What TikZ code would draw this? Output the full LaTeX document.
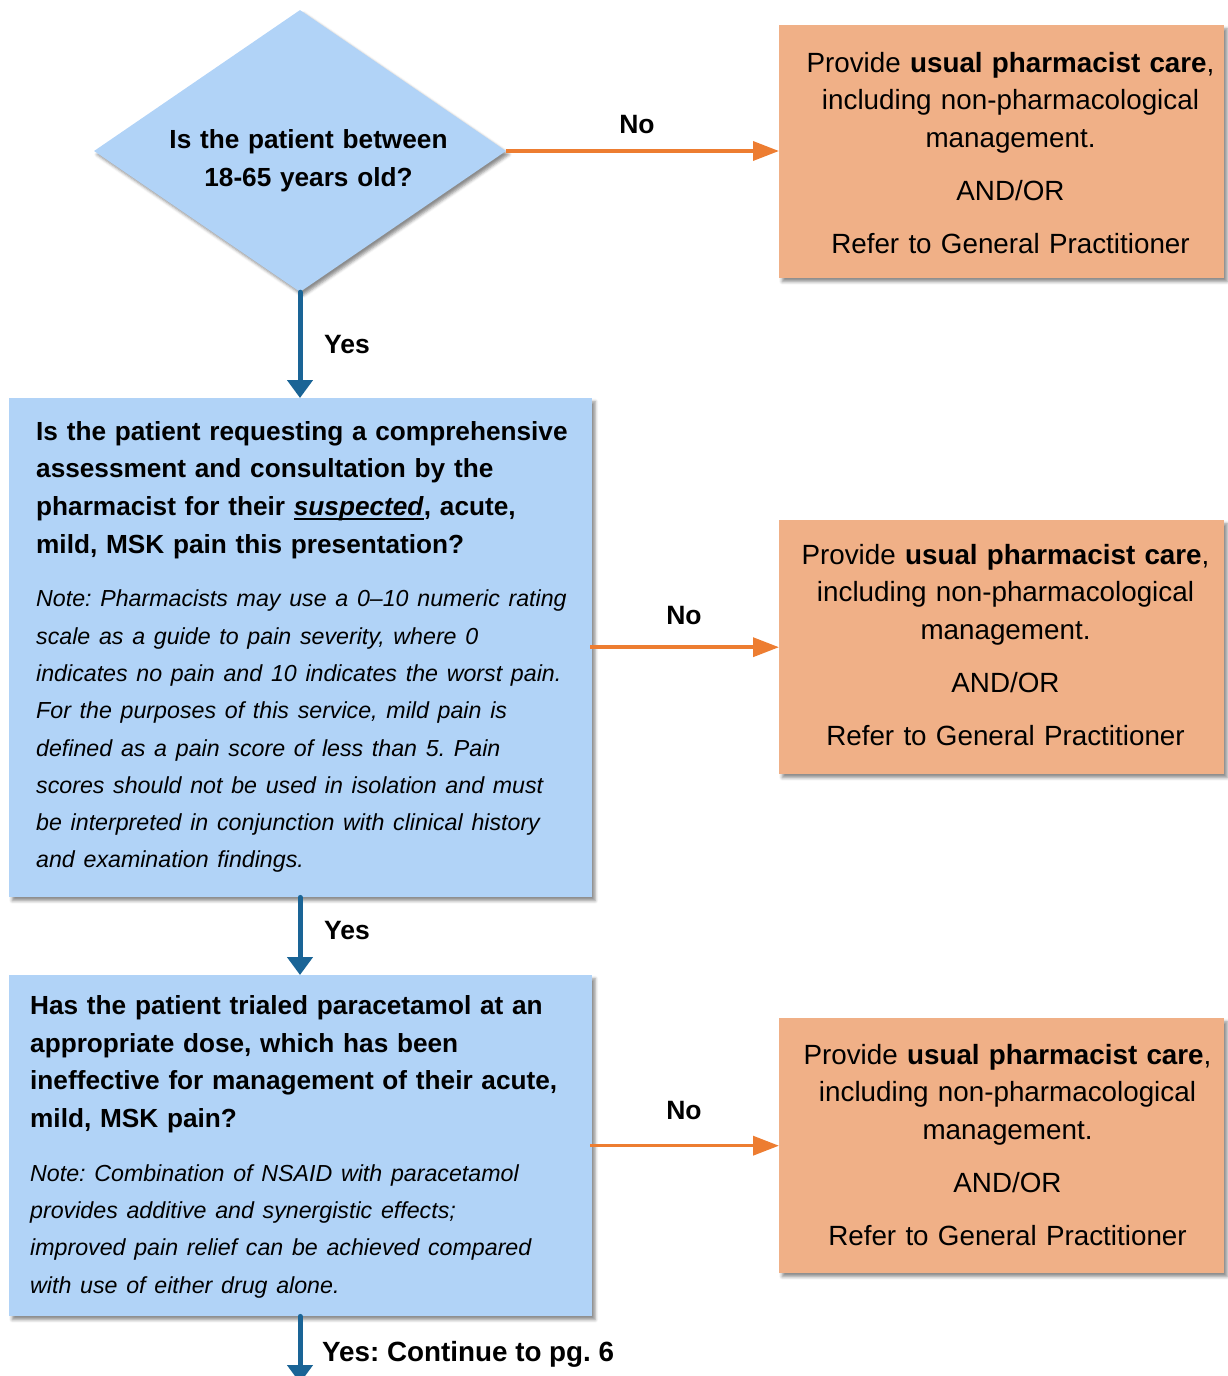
\documentclass[tikz,border=0pt]{standalone}
\usepackage{fontspec}
\setmainfont{Liberation Sans}
\usetikzlibrary{shapes.geometric,arrows.meta,shadows.blur}
\definecolor{qblue}{HTML}{B1D3F7}
\definecolor{aorange}{HTML}{F0B087}
\definecolor{lorange}{HTML}{ED7D31}
\definecolor{lblue}{HTML}{1A6496}
\frenchspacing
\newsavebox{\ulbox}
\newcommand{\ulsusp}[1]{\sbox{\ulbox}{#1}\rlap{\rule[-4.5pt]{\wd\ulbox}{2.2pt}}\usebox{\ulbox}}
\begin{document}
\begin{tikzpicture}[x=1pt,y=-1pt,
  shd/.style={blur shadow={shadow xshift=3pt,shadow yshift=-3.5pt,shadow blur radius=3pt,shadow opacity=45}},
  qbox/.style={rectangle,fill=qblue,draw=none,inner sep=0pt,anchor=north west,shd},
  abox/.style={rectangle,fill=aorange,draw=none,inner sep=0pt,anchor=north west,shd},
  qdia/.style={diamond,fill=qblue,draw=none,inner sep=0pt,minimum width=412pt,minimum height=282pt,shd},
  qtext/.style={inner sep=0pt,anchor=north west,align=left,text width=600pt,font=\fontsize{26.2}{37.6}\selectfont\bfseries},
  dtext/.style={inner sep=0pt,anchor=north,align=center,text width=400pt,font=\fontsize{26.2}{38}\selectfont\bfseries},
  atext/.style={inner sep=0pt,anchor=north,align=center,text width=460pt,font=\fontsize{27.8}{37.75}\selectfont},
  lbl/.style={inner sep=0pt,anchor=base,font=\fontsize{26.5}{32}\selectfont\bfseries},
  noarrow/.style={draw=lorange,line width=3.5pt,-{Triangle[length=26pt,width=19pt]}},
  yesarrow/.style={draw=lblue,line width=5pt,line cap=round,-{Triangle[length=18pt,width=25pt]}},
]
\useasboundingbox (0,0) rectangle (1228,1376);

% shapes
\node[qdia] (d1) at (300,151) {};
\node[abox,minimum width=445pt,minimum height=253pt] (o1) at (779,25) {};
\node[qbox,minimum width=583pt,minimum height=499pt] (b1) at (9,398) {};
\node[abox,minimum width=445pt,minimum height=254pt] (o2) at (779,520) {};
\node[qbox,minimum width=583pt,minimum height=341pt] (b2) at (9,975) {};
\node[abox,minimum width=445pt,minimum height=255pt] (o3) at (779,1018) {};
\coordinate (endpt) at (300,1383);

% texts
\node[dtext] (d1t) at (308.5,126.5) {\rule{0pt}{22pt}Is the patient between\\18-65 years old?};

\node[qtext] (b1t) at (36,418) {\rule{0pt}{22pt}Is the patient requesting a comprehensive\\
assessment and consultation by the\\
pharmacist for their \ulsusp{\textit{suspected}}, acute,\\
mild, MSK pain this presentation?\par
\vspace{16.5pt}\fontsize{23.2}{37.3}\selectfont\mdseries\itshape
Note: Pharmacists may use a 0–10 numeric rating\\
scale as a guide to pain severity, where 0\\
indicates no pain and 10 indicates the worst pain.\\
For the purposes of this service, mild pain is\\
defined as a pain score of less than 5. Pain\\
scores should not be used in isolation and must\\
be interpreted in conjunction with clinical history\\
and examination findings.\par};

\node[qtext] (b2t) at (30,992.5) {\rule{0pt}{22pt}Has the patient trialed paracetamol at an\\
appropriate dose, which has been\\
ineffective for management of their acute,\\
mild, MSK pain?\par
\vspace{16.5pt}\fontsize{23.2}{37.3}\selectfont\mdseries\itshape
Note: Combination of NSAID with paracetamol\\
provides additive and synergistic effects;\\
improved pain relief can be achieved compared\\
with use of either drug alone.\par};

\node[atext] (o1t) at (1010.5,49) {\rule{0pt}{23pt}Provide \textbf{usual pharmacist care},\\
including non-pharmacological\\
management.\\[15pt]
AND/OR\\[15pt]
Refer to General Practitioner};
\node[atext] (o2t) at (1005.5,541) {\rule{0pt}{23pt}Provide \textbf{usual pharmacist care},\\
including non-pharmacological\\
management.\\[15pt]
AND/OR\\[15pt]
Refer to General Practitioner};
\node[atext] (o3t) at (1007.5,1041) {\rule{0pt}{23pt}Provide \textbf{usual pharmacist care},\\
including non-pharmacological\\
management.\\[15pt]
AND/OR\\[15pt]
Refer to General Practitioner};

% connectors
\draw[noarrow] (d1.east) -- (d1.east -| o1.west);
\draw[noarrow] ([xshift=-2pt]b1.east |- o2.west) -- (o2.west);
\draw[noarrow] ([xshift=-2pt]b2.east |- o3.west) -- (o3.west);
\draw[yesarrow] (d1.south) -- (d1.south |- b1.north);
\draw[yesarrow] (d1.south |- b1.south) -- (d1.south |- b2.north);
\draw[yesarrow] (d1.south |- b2.south) -- (endpt);

% labels
\node[lbl] (no1) at (637,133.5) {No};
\node[lbl] (no2) at (684,624.5) {No};
\node[lbl] (no3) at (684,1119.5) {No};
\node[lbl] (yes1) at (347,353.5) {Yes};
\node[lbl] (yes2) at (347,939.5) {Yes};
\node[lbl,anchor=base west,font=\fontsize{27.8}{32}\selectfont\bfseries] (yes3) at (322,1361.5) {Yes: Continue to pg. 6};
\end{tikzpicture}
\end{document}
